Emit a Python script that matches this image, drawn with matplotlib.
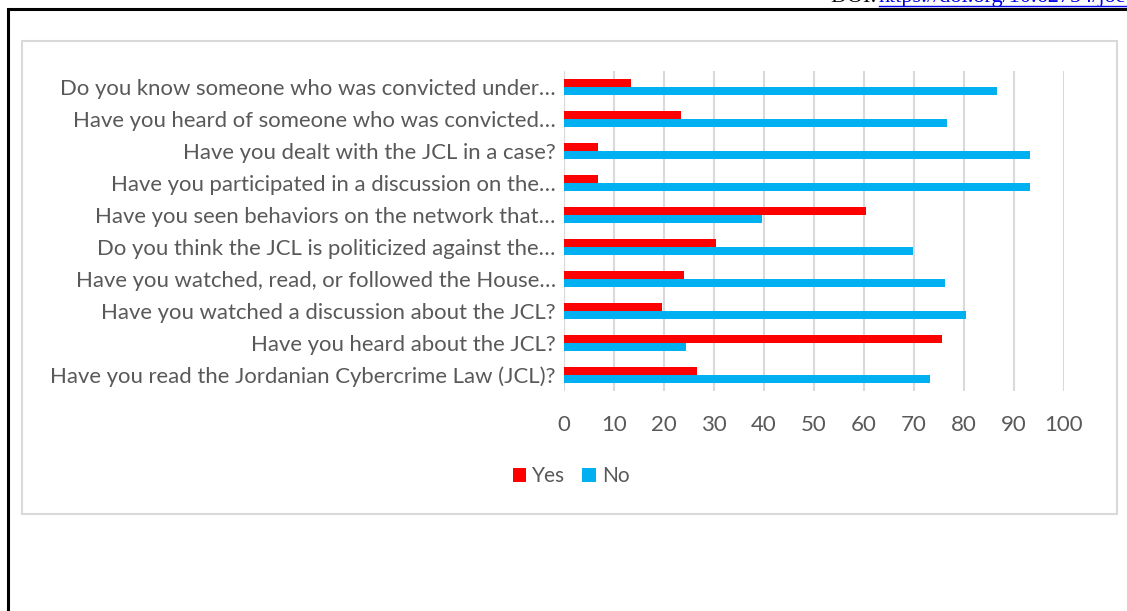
import matplotlib.pyplot as plt
from matplotlib.patches import Rectangle
from matplotlib.lines import Line2D
import numpy as np

questions = [
    "Have you read the Jordanian Cybercrime Law (JCL)?",
    "Have you heard about the JCL?",
    "Have you watched a discussion about the JCL?",
    "Have you watched, read, or followed the House\u2026",
    "Do you think the JCL is politicized against the\u2026",
    "Have you seen behaviors on the network that\u2026",
    "Have you participated in a discussion on the\u2026",
    "Have you dealt with the JCL in a case?",
    "Have you heard of someone who was convicted\u2026",
    "Do you know someone who was convicted under\u2026",
]
yes = [26.5, 75.6, 19.6, 23.9, 30.3, 60.3, 6.7, 6.7, 23.3, 13.3]
no = [73.2, 24.3, 80.3, 76.1, 69.7, 39.6, 93.1, 93.1, 76.5, 86.5]
x_ticks = list(range(0, 101, 10))

W, H = 1127, 611
TXT = "#595959"
plt.rcParams["font.family"] = ["Lato", "DejaVu Sans"]

fig = plt.figure(figsize=(W / 100, H / 100), dpi=100)


def fx(px):
    return px / W


def fy(py):
    return 1 - py / H


# page frame and the chart's outer box
fig.patches.append(Rectangle((fx(7.5), fy(700)), fx(1200), fy(8.5) - fy(700),
                             transform=fig.transFigure, fill=False,
                             edgecolor="black", linewidth=2.2))
fig.patches.append(Rectangle((fx(22), fy(514)), fx(1117) - fx(22), fy(41) - fy(514),
                             transform=fig.transFigure, fill=False,
                             edgecolor="#d9d9d9", linewidth=1.5))

# DOI line running off the top of the page
fig.text(fx(831), fy(7), "DOI: ", family="Liberation Serif", fontsize=16,
         color="black", va="bottom")
fig.text(fx(879), fy(7), "https://doi.org/10.62754/joe", family="Liberation Serif",
         fontsize=16, color="#0000ee", va="bottom")
fig.lines.append(Line2D([fx(879), fx(1127)], [fy(6), fy(6)], transform=fig.transFigure,
                        color="#0000ee", linewidth=1))

ax = fig.add_axes([fx(564), fy(391), fx(1064) - fx(564), fy(71) - fy(391)])

y = np.arange(len(questions))
h = 0.25
ax.barh(y + h / 2, yes, height=h, color="#ff0000", label="Yes", zorder=3)
ax.barh(y - h / 2, no, height=h, color="#00b0f0", label="No", zorder=3)

ax.set_xlim(0, 100)
ax.set_ylim(-0.5, len(questions) - 0.5)
ax.set_xticks(x_ticks)
ax.set_yticks(y)
ax.set_yticklabels(questions)
ax.xaxis.grid(True, color="#d9d9d9", linewidth=1.5, zorder=0)
ax.tick_params(length=0, colors=TXT)
ax.tick_params(axis="y", labelsize=15.9, pad=6)
ax.tick_params(axis="x", labelsize=16, pad=17)
for s in ax.spines.values():
    s.set_visible(False)
ax.axvline(0, color="#d9d9d9", linewidth=1.5, zorder=1)

leg = fig.legend(loc="center", bbox_to_anchor=(fx(571), fy(476)), ncol=2, frameon=False,
                 fontsize=15, handlelength=0.65, handleheight=0.65, handletextpad=0.3,
                 columnspacing=0.8)
for t in leg.get_texts():
    t.set_color(TXT)

fig.savefig("out.png", dpi=100)
